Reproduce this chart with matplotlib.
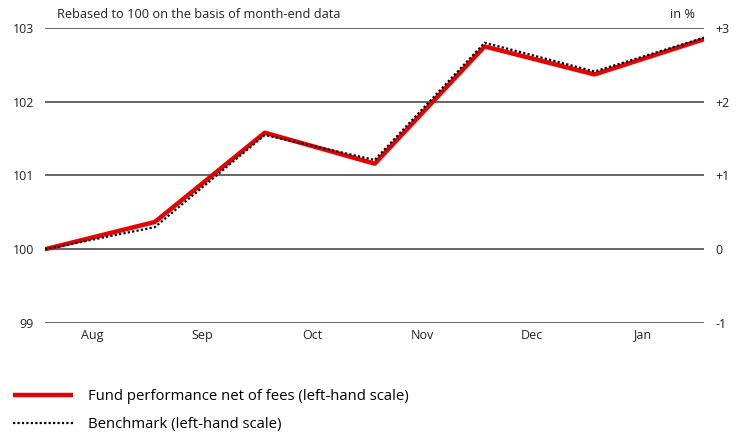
import matplotlib
matplotlib.use("Agg")
import matplotlib.pyplot as plt
import numpy as np

plt.rcParams['font.family'] = ['Open Sans', 'DejaVu Sans']

# data (rebased to 100, month-end)
points = [0, 1, 2, 3, 4, 5, 6]
fund = [100.0, 100.37, 101.58, 101.16, 102.75, 102.37, 102.85]
bench = [100.0, 100.30, 101.55, 101.21, 102.80, 102.41, 102.87]
months = ["Aug", "Sep", "Oct", "Nov", "Dec", "Jan"]
left_ticks = [99, 100, 101, 102, 103]
right_labels = ["-1", "0", "+1", "+2", "+3"]

fig = plt.figure(figsize=(7.42, 4.34), dpi=100)
ax = fig.add_axes([0.0606, 0.2558, 0.8888, 0.6797])

for t in left_ticks:
    ax.axhline(t, color="#5a5a5a", lw=1.3, zorder=1)

ax.plot(points, fund, color="#e60000", lw=3.2, solid_capstyle="butt",
        label="Fund performance net of fees (left-hand scale)", zorder=3)
ax.plot(points, bench, color="black", lw=1.6, ls=(0, (1, 1)),
        label="Benchmark (left-hand scale)", zorder=4)

ax.set_xlim(0, 6)
ax.set_ylim(99, 103)
ax.set_yticks(left_ticks)
ax.set_yticklabels([str(t) for t in left_ticks])
ax.set_xticks([i + 0.43 for i in range(len(months))])
ax.set_xticklabels(months)
ax.tick_params(axis="both", length=0, labelsize=9, colors="#222222")
ax.tick_params(axis="y", pad=8)
ax.tick_params(axis="x", pad=4)
for s in ax.spines.values():
    s.set_visible(False)

ax2 = ax.twinx()
ax2.set_ylim(99, 103)
ax2.set_yticks(left_ticks)
ax2.set_yticklabels(right_labels)
ax2.tick_params(axis="y", length=0, labelsize=9, colors="#222222", pad=8)
for s in ax2.spines.values():
    s.set_visible(False)

fig.text(0.077, 0.952, "Rebased to 100 on the basis of month-end data",
         fontsize=9.2, color="#222222", va="bottom")
fig.text(0.937, 0.952, "in %", fontsize=9.2, color="#222222", va="bottom", ha="right")

fig.legend(loc="upper left", bbox_to_anchor=(0.0, 0.135), frameon=False,
           fontsize=10.7, handlelength=4.0, handletextpad=1.0, labelspacing=0.9,
           bbox_transform=fig.transFigure)

fig.savefig("out.png", dpi=100)
